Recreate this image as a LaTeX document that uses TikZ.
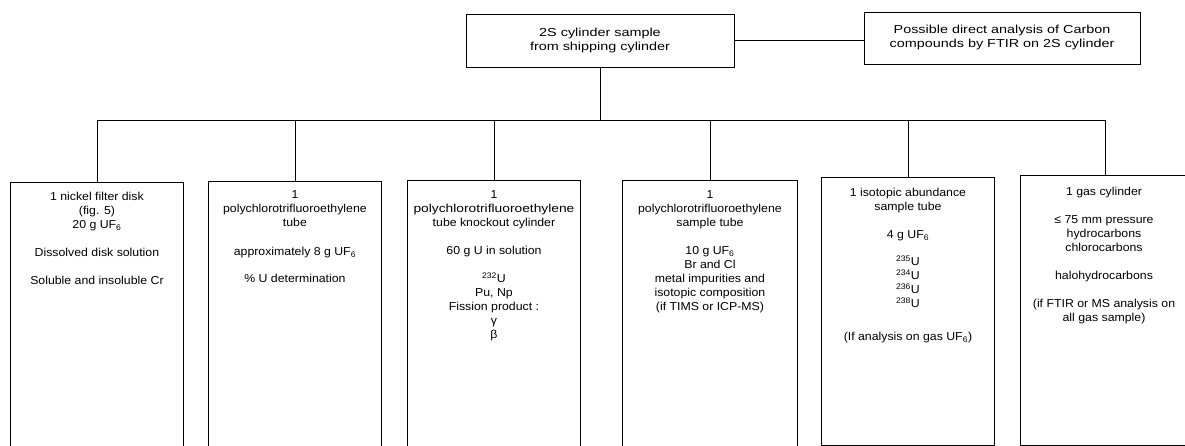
\documentclass[tikz,border=0pt]{standalone}
\usepackage{fontspec}
\setmainfont{Liberation Sans}[FakeStretch=1.07]
\newfontfamily\topfont{Liberation Sans}[FakeStretch=1.24]
\usepackage{graphicx}
\begin{document}
\begin{tikzpicture}[x=1pt,y=-1pt,line width=0.9pt,
  topbox/.style={draw,align=center,inner sep=0pt,font=\topfont\fontsize{11.6}{14}\selectfont},
  box/.style={draw,anchor=north west,minimum width=173pt,inner sep=0pt},
  txt/.style={anchor=north,align=center,inner sep=0pt,font=\fontsize{11.5}{14}\selectfont}]
\useasboundingbox (0,0) rectangle (1185,446);
\clip (0,0) rectangle (1185,446);
% top row
\node[topbox,minimum width=268pt,minimum height=53pt] (top) at (600,40.5) {2S cylinder sample\\from shipping cylinder};
\node[topbox,minimum width=276pt,minimum height=52pt] (right) at (1002,38) {Possible direct analysis of Carbon\\compounds by FTIR on 2S cylinder};
\draw (top.east) -- (top.east -| right.west);
% bottom boxes
\node[box,minimum height=280pt] (b1) at (10,182) {};
\node[box,minimum height=280pt] (b2) at (208,181) {};
\node[box,minimum height=280pt] (b3) at (407,180) {};
\node[box,minimum width=175pt,minimum height=280pt] (b4) at (622,180) {};
\node[box,minimum height=268pt] (b5) at (821,177) {};
\node[box,minimum width=170pt,minimum height=270pt] (b6) at (1020,175) {};
% connectors
\coordinate (bus) at (600,120);
\draw (top.south) -- (top.south |- bus);
\draw (b1.north) -- (b1.north |- bus) -- (b6.north |- bus) -- (b6.north);
\foreach \b in {b2,b3,b4,b5} \draw (\b.north) -- (\b.north |- bus);
% texts
\node[txt] (t1) at ([yshift=-10pt]b1.north) {1 nickel filter disk\\(fig. 5)\\20 g UF\textsubscript{6}\\[14pt]Dissolved disk solution\\[14pt]Soluble and insoluble Cr};
\node[txt] (t2) at ([yshift=-9pt]b2.north) {1\\polychlorotrifluoroethylene\\tube\\[15pt]approximately 8 g UF\textsubscript{6}\\[13pt]\% U determination};
\node[txt] (t3) at ([yshift=-10pt]b3.north) {1\\\scalebox{1.12}[1]{polychlorotrifluoroethylene}\\tube knockout cylinder\\[14pt]60 g U in solution\\[14pt]\textsuperscript{232}U\\Pu, Np\\Fission product :\\γ\\β};
\node[txt] (t4) at ([yshift=-10pt]b4.north) {1\\polychlorotrifluoroethylene\\sample tube\\[14pt]10 g UF\textsubscript{6}\\Br and Cl\\metal impurities and\\isotopic composition\\(if TIMS or ICP-MS)};
\node[txt] (t5) at ([yshift=-11pt]b5.north) {1 isotopic abundance\\sample tube\\[14pt]4 g UF\textsubscript{6}\\[13pt]\textsuperscript{235}U\\\textsuperscript{234}U\\\textsuperscript{236}U\\\textsuperscript{238}U\\[19pt](If analysis on gas UF\textsubscript{6})};
\node[txt] (t6) at ([yshift=-12pt]b6.north -| 1104,0) {1 gas cylinder\\[14pt]≤ 75 mm pressure\\hydrocarbons\\chlorocarbons\\[14pt]halohydrocarbons\\[14pt](if FTIR or MS analysis on\\all gas sample)};
\end{tikzpicture}
\end{document}
